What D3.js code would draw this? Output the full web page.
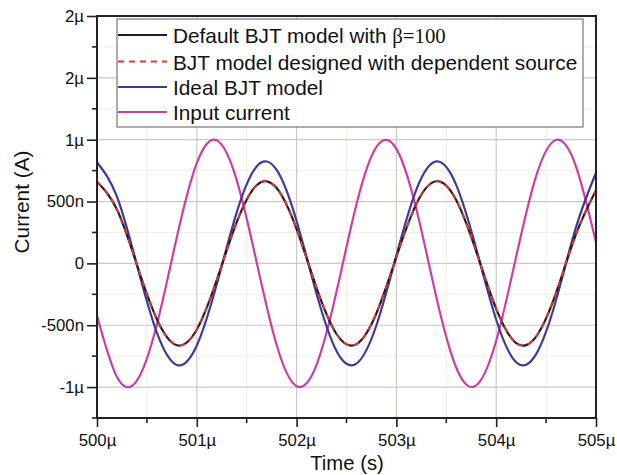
<!DOCTYPE html>
<html>
<head>
<meta charset="utf-8">
<script src="https://cdn.jsdelivr.net/npm/d3@7"></script>
<style>
body { margin: 0; background: #fff; }
text { font-family: "Liberation Sans", Arial, sans-serif; fill: #111; }
</style>
</head>
<body>
<svg id="chart" width="617" height="475"></svg>
<script>
// time in microseconds, currents in microamps
var times = [500.0, 500.2, 500.4, 500.6, 500.8, 501.0, 501.2, 501.4, 501.6, 501.8,
	502.0, 502.2, 502.4, 502.6, 502.8, 503.0, 503.2, 503.4, 503.6, 503.8,
	504.0, 504.2, 504.4, 504.6, 504.8, 505.0];
var defaultBJT = [0.660, 0.436, -0.011, -0.452, -0.662, -0.535, -0.136, 0.333, 0.632, 0.609,
	0.277, -0.198, -0.571, -0.653, -0.403, 0.052, 0.481, 0.664, 0.510, 0.096,
	-0.368, -0.644, -0.592, -0.239, 0.236, 0.591];
var designedBJT = [0.660, 0.436, -0.011, -0.452, -0.662, -0.535, -0.136, 0.333, 0.632, 0.609,
	0.277, -0.198, -0.571, -0.653, -0.403, 0.052, 0.481, 0.664, 0.510, 0.096,
	-0.368, -0.644, -0.592, -0.239, 0.236, 0.591];
var idealBJT = [0.818, 0.540, -0.013, -0.560, -0.821, -0.664, -0.169, 0.413, 0.784, 0.756,
	0.343, -0.245, -0.708, -0.810, -0.500, 0.064, 0.596, 0.824, 0.633, 0.119,
	-0.456, -0.799, -0.734, -0.296, 0.293, 0.733];
var inputCurrent = [-0.422, -0.919, -0.948, -0.494, 0.212, 0.810, 0.995, 0.673, 0.009, -0.660,
	-0.993, -0.820, -0.230, 0.478, 0.942, 0.926, 0.439, -0.272, -0.844, -0.987,
	-0.626, 0.053, 0.705, 0.998, 0.783, 0.169];

var xTicks = [500, 501, 502, 503, 504, 505];
var xTickLabels = ["500\u00b5", "501\u00b5", "502\u00b5", "503\u00b5", "504\u00b5", "505\u00b5"];
var xMinor = [500.5, 501.5, 502.5, 503.5, 504.5];
var yTicks = [2, 1.5, 1, 0.5, 0, -0.5, -1];
var yTickLabels = ["2\u00b5", "2\u00b5", "1\u00b5", "500n", "0", "-500n", "-1\u00b5"];
var yMinor = [1.75, 1.25, 0.75, 0.25, -0.25, -0.75, -1.25];

var seriesNames = ["Default BJT model with ", "BJT model designed with dependent source", "Ideal BJT model", "Input current"];

(function() {
var svg = d3.select("#chart");
var pl = 97, pr = 596, pt = 16, pb = 418;

var x = d3.scaleLinear().domain([500, 505]).range([pl, pr]);
var y = d3.scaleLinear().domain([-1.25, 2]).range([pb, pt]);

// minor grid
var grid = svg.append("g");
grid.selectAll("line.vminor").data(xMinor).enter().append("line")
	.attr("x1", d => x(d)).attr("x2", d => x(d)).attr("y1", pt).attr("y2", pb)
	.attr("stroke", "#f1ede0").attr("stroke-width", 1);
grid.selectAll("line.hminor").data(yMinor).enter().append("line")
	.attr("x1", pl).attr("x2", pr).attr("y1", d => y(d)).attr("y2", d => y(d))
	.attr("stroke", "#f1ede0").attr("stroke-width", 1);
// major grid
grid.selectAll("line.vmajor").data(xTicks).enter().append("line")
	.attr("x1", d => x(d)).attr("x2", d => x(d)).attr("y1", pt).attr("y2", pb)
	.attr("stroke", "#cfc9c2").attr("stroke-width", 1.2);
grid.selectAll("line.hmajor").data(yTicks).enter().append("line")
	.attr("x1", pl).attr("x2", pr).attr("y1", d => y(d)).attr("y2", d => y(d))
	.attr("stroke", "#cfc9c2").attr("stroke-width", 1.2);

// curves
var pts = function(vals) {
	return times.map(function(t, i) { return [t, vals[i]]; });
};
var line = d3.line().x(d => x(d[0])).y(d => y(d[1])).curve(d3.curveNatural);

var plot = svg.append("g");
plot.append("path").datum(pts(inputCurrent)).attr("d", line)
	.attr("fill", "none").attr("stroke", "#c93fa8").attr("stroke-width", 2.2);
plot.append("path").datum(pts(idealBJT)).attr("d", line)
	.attr("fill", "none").attr("stroke", "#3f3a9c").attr("stroke-width", 2.2);
plot.append("path").datum(pts(defaultBJT)).attr("d", line)
	.attr("fill", "none").attr("stroke", "#231f20").attr("stroke-width", 2.2);
plot.append("path").datum(pts(designedBJT)).attr("d", line)
	.attr("fill", "none").attr("stroke", "#e8342c").attr("stroke-width", 1.8)
	.attr("stroke-dasharray", "6,5");

// axes
var yAxis = d3.axisLeft(y).tickValues(yTicks).tickSize(10).tickPadding(3)
	.tickFormat((d, i) => yTickLabels[i]);
var gy = svg.append("g").attr("transform", "translate(" + pl + ",0)").call(yAxis);
var xAxis = d3.axisBottom(x).tickValues(xTicks).tickSize(9).tickPadding(7)
	.tickFormat((d, i) => xTickLabels[i]);
var gx = svg.append("g").attr("transform", "translate(0," + pb + ")").call(xAxis);

[gx, gy].forEach(function(g) {
	g.select(".domain").remove();
	g.selectAll(".tick line").attr("stroke", "#222").attr("stroke-width", 1.6);
	g.selectAll(".tick text").style("font-size", "16.8px").style("font-family", "'Liberation Sans', Arial, sans-serif").attr("fill", "#222");
});

svg.append("g").selectAll("line").data(yMinor).enter().append("line")
	.attr("x1", pl - 5).attr("x2", pl).attr("y1", d => y(d)).attr("y2", d => y(d))
	.attr("stroke", "#222").attr("stroke-width", 1.6);
svg.append("g").selectAll("line").data(xMinor).enter().append("line")
	.attr("x1", d => x(d)).attr("x2", d => x(d)).attr("y1", pb).attr("y2", pb + 5)
	.attr("stroke", "#222").attr("stroke-width", 1.6);

// frame
svg.append("rect").attr("x", pl).attr("y", pt)
	.attr("width", pr - pl).attr("height", pb - pt)
	.attr("fill", "none").attr("stroke", "#222").attr("stroke-width", 2);

// axis titles
svg.append("text").attr("x", 347).attr("y", 470).attr("text-anchor", "middle")
	.style("font-size", "20.3px").text("Time (s)");
svg.append("text").attr("transform", "translate(29,202) rotate(-90)").attr("text-anchor", "middle")
	.style("font-size", "20.8px").text("Current (A)");

// legend
var legend = svg.append("g");
legend.append("rect").attr("x", 117).attr("y", 19).attr("width", 466).attr("height", 108)
	.attr("fill", "#fff").attr("stroke", "#777").attr("stroke-width", 1.2);
var legendStyles = [
	{ color: "#231f20", dash: null, width: 2.2 },
	{ color: "#e8342c", dash: "6,5", width: 2 },
	{ color: "#3f3a9c", dash: null, width: 2.2 },
	{ color: "#c93fa8", dash: null, width: 2.2 }
];
var rowY = [35, 61.5, 87, 112];
seriesNames.forEach(function(name, i) {
	legend.append("line").attr("x1", 118).attr("x2", 167).attr("y1", rowY[i]).attr("y2", rowY[i])
		.attr("stroke", legendStyles[i].color).attr("stroke-width", legendStyles[i].width)
		.attr("stroke-dasharray", legendStyles[i].dash);
	var t = legend.append("text").attr("x", 173).attr("y", rowY[i] + 8).style("font-size", "20.8px").text(name);
	if (i == 0) {
		t.append("tspan").style("font-family", "'Liberation Serif', 'Times New Roman', serif")
			.style("font-size", "20.8px").text("\u03b2=100");
	}
});
})();
</script>
</body>
</html>
